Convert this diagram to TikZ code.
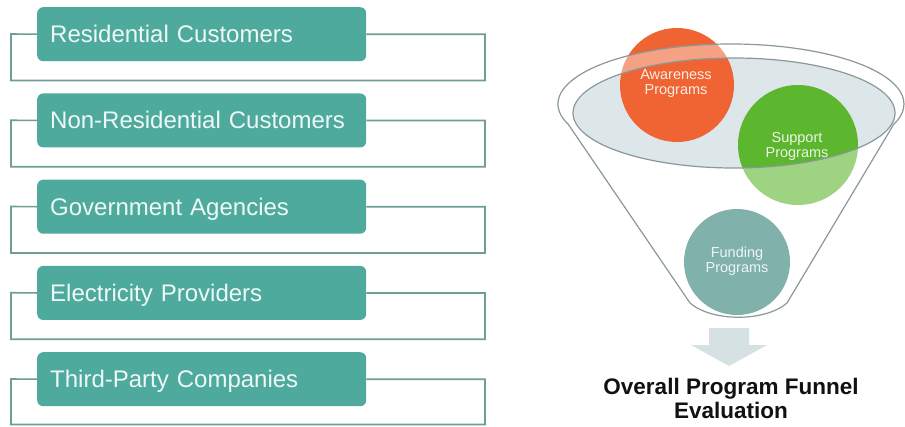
\documentclass[tikz,border=0pt]{standalone}
\usepackage{fontspec}
\setmainfont{Liberation Sans}
\definecolor{boxteal}{HTML}{4FAA9E}
\definecolor{boxtext}{HTML}{EEF8F6}
\definecolor{framec}{HTML}{6E9E98}
\definecolor{orangec}{HTML}{EF6432}
\definecolor{greenc}{HTML}{5CB62E}
\definecolor{fundc}{HTML}{2C7D74}
\definecolor{innerfill}{HTML}{DDE6E9}
\definecolor{funline}{HTML}{8A989A}
\definecolor{arrowc}{HTML}{D6E1E3}
\definecolor{titlec}{HTML}{111111}
\begin{document}
\begin{tikzpicture}[x=1pt,y=1pt,
  catbox/.style={fill=boxteal, rounded corners=6pt, minimum height=54pt,
    text width=303pt, inner xsep=13pt, inner ysep=0pt, align=left,
    text=boxtext, font=\fontsize{24}{28}\selectfont,
    text height=17pt, text depth=0pt, anchor=north west},
  frame/.style={draw=framec, line width=1.6pt},
  funnelline/.style={draw=funline, line width=1.2pt},
  circlab/.style={align=center, text=white, text opacity=0.88,
    font=\fontsize{14.5}{15}\selectfont, inner sep=0pt},
]
\useasboundingbox[fill=white] (0,0) rectangle (905,-426);

% ---- left column ----
\node[catbox] (c1) at (37,-7) {Residential Customers};
\node[catbox] (c2) at (37,-93.25) {Non-Residential Customers};
\node[catbox] (c3) at (37,-179.5) {Government Agencies};
\node[catbox] (c4) at (37,-265.75) {Electricity Providers};
\node[catbox] (c5) at (37,-352) {Third-Party Companies};

\draw[frame] (c1.east) -| (485,-80.5) -| (11,-34) -- (c1.west);
\draw[frame] (c2.east) -| (485,-166.75) -| (11,-120.25) -- (c2.west);
\draw[frame] (c3.east) -| (485,-253) -| (11,-206.5) -- (c3.west);
\draw[frame] (c4.east) -| (485,-339.25) -| (11,-292.75) -- (c4.west);
\draw[frame] (c5.east) -| (485,-424.5) -| (11,-379) -- (c5.west);

% ---- funnel ----
\fill[innerfill] (734,-113) ellipse[x radius=161, y radius=55];
\fill[orangec] (677,-85) circle[radius=57];
\fill[greenc] (798,-145) circle[radius=60];
\fill[fundc] (737,-262) circle[radius=53];

\fill[white, fill opacity=0.4, even odd rule]
  (568.43,-124.52) arc[start angle=200, end angle=-20, x radius=173, y radius=60]
  -- (787,-303) .. controls (765,-322) and (712,-322) .. (690,-303) -- cycle
  (734,-113) ellipse[x radius=161, y radius=55];

\draw[funnelline]
  (568.43,-124.52) arc[start angle=200, end angle=-20, x radius=173, y radius=60]
  -- (787,-303) .. controls (765,-322) and (712,-322) .. (690,-303) -- cycle;
\draw[funnelline] (734,-113) ellipse[x radius=161, y radius=55];

\node[circlab] (aw) at (676,-84) {Awareness\\Programs};
\node[circlab] (su) at (797,-146) {Support\\Programs};
\node[circlab] (fu) at (737,-261) {Funding\\Programs};

% ---- arrow ----
\fill[arrowc] (709,-328) -- (749,-328) -- (749,-345) -- (767,-345)
  -- (729,-366) -- (691,-345) -- (709,-345) -- cycle;

\node[align=center, text=titlec, inner sep=0pt,
  font=\bfseries\fontsize{22.5}{24}\selectfont] (title) at (731,-398)
  {Overall Program Funnel\\Evaluation};
\end{tikzpicture}
\end{document}
